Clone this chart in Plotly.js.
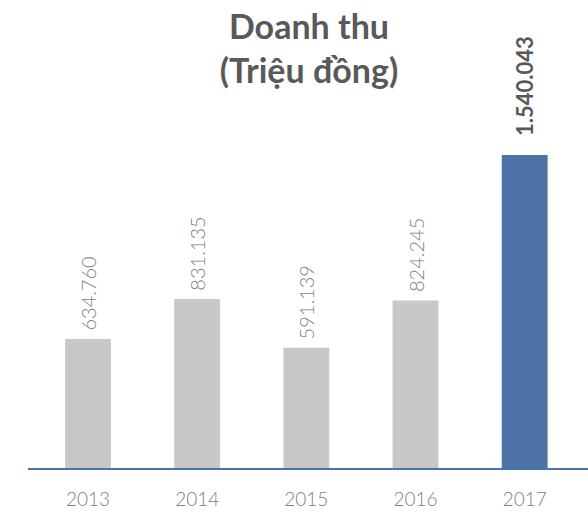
<!DOCTYPE html>
<html>
<head>
<meta charset="utf-8">
<script src="https://cdn.plot.ly/plotly-3.0.1.min.js"></script>
<style>html,body{margin:0;padding:0;background:#fff;}#chart{width:588px;height:517px;}</style>
</head>
<body>
<div id="chart"></div>
<script>
var years = ['2013', '2014', '2015', '2016', '2017'];
var revenue = [634760, 831135, 591139, 824245, 1540043];
var barColors = ['#c8c8c8', '#c8c8c8', '#c8c8c8', '#c8c8c8', '#4d72a6'];
var labelWeights = [300, 300, 300, 300, 700];
var labelSizes = [20, 20, 20, 20, 22];
var labelColors = ['#7f7f7f', '#7f7f7f', '#7f7f7f', '#7f7f7f', '#595959'];
var labelTemplates = ['\u00a0%{y:,.0f}', '\u00a0%{y:,.0f}', '\u00a0%{y:,.0f}', '\u00a0%{y:,.0f}', '\u00a0\u00a0\u00a0%{y:,.0f}'];

var trace = {
  type: 'bar',
  x: years,
  y: revenue,
  marker: {color: barColors},
  texttemplate: labelTemplates,
  textposition: 'outside',
  textangle: -90,
  constraintext: 'none',
  cliponaxis: false,
  textfont: {family: 'Lato', size: labelSizes, color: labelColors, weight: labelWeights},
  hoverinfo: 'none'
};

var layout = {
  width: 588,
  height: 517,
  margin: {l: 28, r: 0, t: 0, b: 49},
  paper_bgcolor: '#ffffff',
  plot_bgcolor: '#ffffff',
  separators: ',.',
  bargap: 0.58,
  showlegend: false,
  title: {
    text: 'Doanh thu<br>(Triệu đồng)',
    font: {family: 'Lato', size: 34, color: '#595959', weight: 700},
    xref: 'container', x: 0.5255, xanchor: 'center',
    yref: 'container', y: 0.925, yanchor: 'top'
  },
  xaxis: {
    type: 'category',
    range: [-0.55, 4.58],
    showline: true,
    linecolor: '#4a72b0',
    linewidth: 2,
    ticks: '',
    showgrid: false,
    zeroline: false,
    tickfont: {family: 'Lato', size: 19, color: '#7f7f7f', weight: 300},
    ticklabelstandoff: 13
  },
  yaxis: {
    range: [0, 2302700],
    visible: false,
    showgrid: false,
    zeroline: false
  }
};

Plotly.newPlot('chart', [trace], layout, {displayModeBar: false, staticPlot: true});
</script>
</body>
</html>
